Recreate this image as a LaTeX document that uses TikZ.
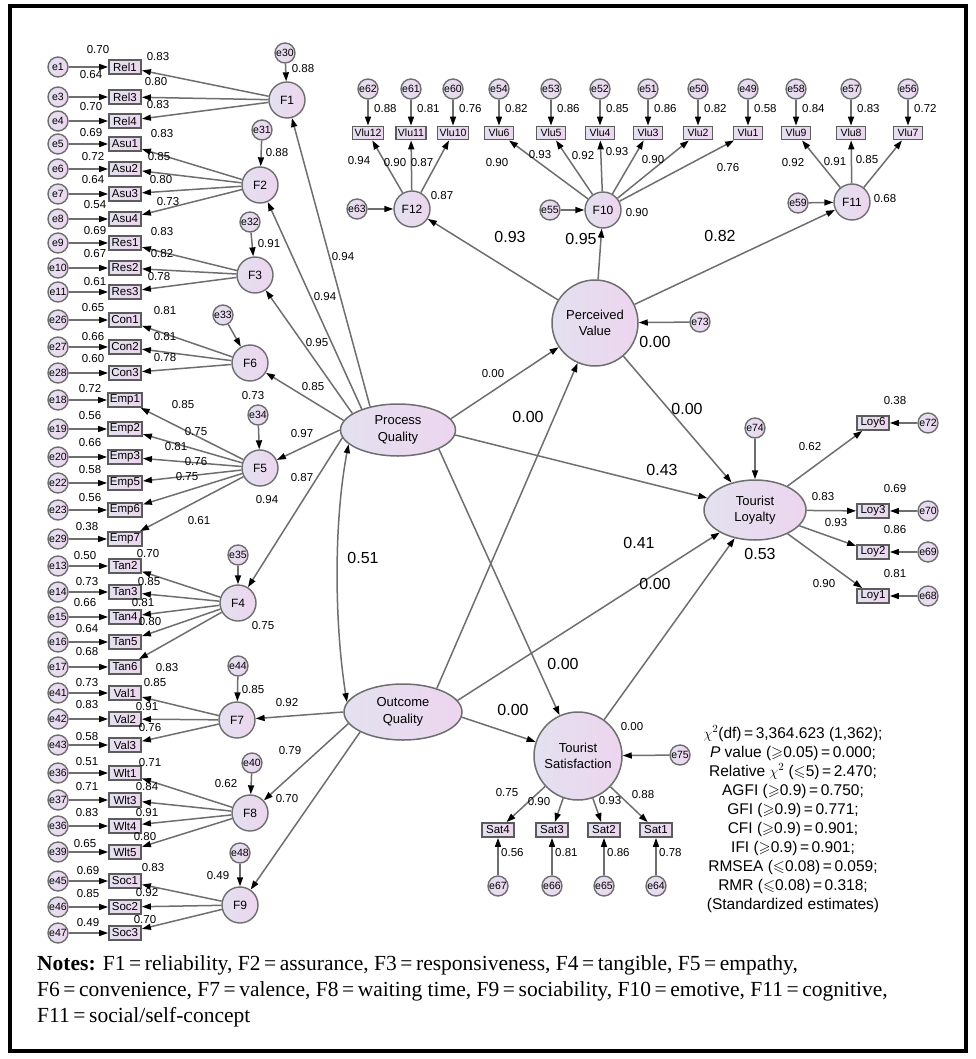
\documentclass[tikz,border=0pt]{standalone}
\usepackage{amssymb}
\usepackage{fontspec}
\setmainfont{Liberation Sans}
\newfontfamily\notefont{Liberation Serif}
\usetikzlibrary{arrows.meta,shapes.geometric}
\definecolor{lineg}{HTML}{6E6E6E}
\definecolor{boxg}{HTML}{5C5C5C}
\definecolor{lavA}{HTML}{E3E1EF}
\definecolor{lavB}{HTML}{EDD5EF}
\begin{document}
\begin{tikzpicture}[x=1pt,y=-1pt,
    lat/.style={circle,draw=lineg,line width=1.4pt,left color=lavA,right color=lavB,
      minimum size=36pt,inner sep=0pt,font=\fontsize{12}{14}\selectfont},
    err/.style={circle,draw=lineg,line width=1.4pt,left color=lavA,right color=lavB,
      minimum size=20pt,inner sep=0pt,font=\fontsize{10.5}{12}\selectfont},
    ind/.style={rectangle,draw=boxg,line width=1.8pt,left color=lavA,right color=lavB,
      minimum width=32pt,minimum height=14pt,inner xsep=2pt,inner ysep=0pt,
      font=\fontsize{11.5}{13}\selectfont},
    indt/.style={ind,minimum width=29pt,minimum height=13pt,font=\fontsize{10.5}{12}\selectfont},
    big/.style={draw=lineg,line width=1.5pt,left color=lavA,right color=lavB,
      inner sep=0pt,align=center,font=\fontsize{13}{16.5}\selectfont},
    ar/.style={-{Triangle[length=9pt,width=6pt,color=black]},draw=lineg,line width=1.5pt},
    num/.style={inner sep=0pt,font=\fontsize{11.5}{13}\selectfont},
    bnum/.style={inner sep=0pt,font=\fontsize{16}{18}\selectfont},
  ]
  \useasboundingbox (0,0) rectangle (975,1059);
  \draw[line width=3.5pt] (10,6) rectangle (966,1051);

  % left block: indicators with their errors
  \foreach \n/\e/\y in {Rel1/e1/67,Rel3/e3/97,Rel4/e4/121,Asu1/e5/144,Asu2/e6/169,
      Asu3/e7/194,Asu4/e8/219,Res1/e9/243,Res2/e10/268,Res3/e11/292,Con1/e26/320,
      Con2/e27/347,Con3/e28/373,Emp1/e18/400,Emp2/e19/429,Emp3/e20/457,Emp5/e22/483,
      Emp6/e23/510,Emp7/e29/539,Tan2/e13/566,Tan3/e14/592,Tan4/e15/617,Tan5/e16/642,
      Tan6/e17/667,Val1/e41/693,Val2/e42/719,Val3/e43/745,Wlt1/e36/773,Wlt3/e37/800,
      Wlt4/e36/826,Wlt5/e39/852,Soc1/e45/881,Soc2/e46/907,Soc3/e47/933}{
    \node[ind] (\n) at (125,\y) {\n};
    \node[err] (er\n) at (58,\y) {\e};
    \draw[ar] (er\n) -- (\n);
  }
  % first order factors
  \foreach \f/\x/\y/\e/\ex/\ey in {F1/287/100/e30/285/53,F2/260/185/e31/262/130,
      F3/255/275/e32/250/222,F6/250/363/e33/223/315,F5/260/468/e34/258/415,
      F4/238/603/e35/238/555,F7/237/720/e44/238/666,F8/250/813/e40/252/763,
      F9/240/905/e48/240/853}{
    \node[lat] (\f) at (\x,\y) {\f};
    \node[err] (er\f) at (\ex,\ey) {\e};
    \draw[ar] (er\f) -- (\f);
  }
  \foreach \f/\items in {F1/{Rel1,Rel3,Rel4},F2/{Asu1,Asu2,Asu3,Asu4},F3/{Res1,Res2,Res3},
      F6/{Con1,Con2,Con3},F5/{Emp1,Emp2,Emp3,Emp5,Emp6,Emp7},F4/{Tan2,Tan3,Tan4,Tan5,Tan6},
      F7/{Val1,Val2,Val3},F8/{Wlt1,Wlt3,Wlt4,Wlt5},F9/{Soc1,Soc2,Soc3}}
    \foreach \i in \items \draw[ar] (\f) -- (\i);

  % second order constructs
  \node[big,ellipse,minimum width=115pt,minimum height=52pt] (PQ) at (398,430) {Process\\Quality};
  \node[big,ellipse,minimum width=118pt,minimum height=56pt] (OQ) at (403,712) {Outcome\\Quality};
  \node[big,circle,minimum size=86pt] (PV) at (595,323) {Perceived\\Value};
  \node[big,circle,minimum size=88pt] (TS) at (578,756) {Tourist\\Satisfaction};
  \node[big,ellipse,minimum width=102pt,minimum height=60pt] (TL) at (755,510) {Tourist\\Loyalty};

  \draw[ar] (PQ.140) -- (F1);
  \draw[ar] (PQ.150) -- (F2);
  \draw[ar] (PQ.160) -- (F3);
  \draw[ar] (PQ.170) -- (F6);
  \draw[ar] (PQ.180) -- (F5);
  \draw[ar] (PQ.188) -- (F4);
  \draw[ar] (OQ.180) -- (F7);
  \draw[ar] (OQ.192) -- (F8);
  \draw[ar] (OQ.205) -- (F9);
  \draw[{Triangle[length=9pt,width=6pt,color=black]}-{Triangle[length=9pt,width=6pt,color=black]},
    draw=lineg,line width=1.5pt] (PQ.196) .. controls (334,520) and (334,620) .. (OQ.170);

  % perceived value block
  \node[lat] (F12) at (412,209) {F12};
  \node[lat] (F10) at (603,210) {F10};
  \node[lat] (F11) at (852,202) {F11};
  \node[err] (erF12) at (357,209) {e63};
  \node[err] (erF10) at (550,210) {e55};
  \node[err] (erF11) at (798,203) {e59};
  \foreach \f in {F12,F10,F11}{
    \draw[ar] (er\f) -- (\f);
    \draw[ar] (PV) -- (\f);
  }
  \foreach \n/\e/\x/\t in {Vlu12/e62/368/0.88,Vlu11/e61/411/0.81,Vlu10/e60/453/0.76,
      Vlu6/e54/499/0.82,Vlu5/e53/551/0.86,Vlu4/e52/600/0.85,Vlu3/e51/648/0.86,
      Vlu2/e50/698/0.82,Vlu1/e49/748/0.58,Vlu9/e58/796/0.84,Vlu8/e57/851/0.83,
      Vlu7/e56/908/0.72}{
    \node[indt] (\n) at (\x,133) {\n};
    \node[err] (er\n) at (\x,89) {\e};
    \draw[ar] (er\n) -- (\n);
    \node[num,anchor=west] (r\n) at (\x+6,109) {\t};
  }
  \foreach \f/\items in {F12/{Vlu12,Vlu11,Vlu10},F10/{Vlu6,Vlu5,Vlu4,Vlu3,Vlu2,Vlu1},
      F11/{Vlu9,Vlu8,Vlu7}}
    \foreach \i in \items \draw[ar] (\f) -- (\i);
  \node[err] (e73) at (700,322) {e73};
  \draw[ar] (e73) -- (PV);

  % loyalty block
  \node[err] (e74) at (755,428) {e74};
  \draw[ar] (e74) -- (TL);
  \foreach \n/\e/\y/\t in {Loy6/e72/423/0.38,Loy3/e70/511/0.69,Loy2/e69/552/0.86,Loy1/e68/596/0.81}{
    \node[ind] (\n) at (873,\y) {\n};
    \node[err] (er\n) at (928,\y) {\e};
    \draw[ar] (er\n) -- (\n);
    \draw[ar] (TL) -- (\n);
    \node[num] (r\n) at (895,\y-22) {\t};
  }

  % satisfaction block
  \node[err] (e75) at (680,755) {e75};
  \draw[ar] (e75) -- (TS);
  \foreach \n/\e/\x/\t in {Sat4/e67/498/0.56,Sat3/e66/552/0.81,Sat2/e65/604/0.86,Sat1/e64/656/0.78}{
    \node[ind] (\n) at (\x,830) {\n};
    \node[err] (er\n) at (\x,886) {\e};
    \draw[ar] (er\n) -- (\n);
    \draw[ar] (TS) -- (\n);
    \node[num,anchor=west] (r\n) at (\x+3,853) {\t};
  }

  % structural paths
  \draw[ar] (PQ.12) -- (PV);
  \draw[ar] (PQ.355) -- (TL);
  \draw[ar] (PQ.335) -- (TS);
  \draw[ar] (OQ.35) -- (PV);
  \draw[ar] (OQ.12) -- (TL);
  \draw[ar] (OQ.355) -- (TS);
  \draw[ar] (PV) -- (TL);
  \draw[ar] (TS) -- (TL);

  % estimates
  \foreach \x/\y/\t [count=\k] in {98/50/0.70,91/75/0.64,91/107/0.70,91/133/0.69,93/157/0.72,
      93/180/0.64,95/205/0.54,95/231/0.69,95/254/0.67,95/282/0.61,93/308/0.65,93/337/0.66,
      93/359/0.60,90/389/0.72,90/416/0.56,90/443/0.66,90/470/0.58,90/498/0.56,87/527/0.38,
      85/556/0.50,87/582/0.73,85/603/0.66,87/629/0.64,87/652/0.68,87/683/0.73,87/705/0.83,
      87/737/0.58,87/762/0.51,87/787/0.71,87/813/0.83,85/844/0.65,88/871/0.69,88/894/0.85,
      88/923/0.49}
    \node[num] (le\k) at (\x,\y) {\t};
  \foreach \x/\y/\t [count=\k] in {158/57/0.83,156/82/0.80,158/105/0.83,162/134/0.83,
      159/157/0.85,161/180/0.80,168/202/0.73,162/232/0.83,162/254/0.82,159/277/0.78,
      165/311/0.81,165/337/0.81,165/358/0.78,183/405/0.85,196/432/0.75,176/447/0.81,
      196/462/0.76,187/477/0.75,199/521/0.61,148/554/0.70,149/582/0.85,143/603/0.81,
      150/622/0.80,167/668/0.83,155/683/0.85,147/707/0.91,150/728/0.76,150/763/0.71,
      147/787/0.84,147/813/0.91,145/837/0.80,153/868/0.83,147/893/0.92,145/920/0.70}
    \node[num] (ll\k) at (\x,\y) {\t};
  \foreach \x/\y/\t [count=\k] in {303/69/0.88,277/153/0.88,269/244/0.91,253/396/0.73,
      267/500/0.94,263/626/0.75,253/690/0.85,226/784/0.62,218/876/0.49,343/257/0.94,
      325/297/0.94,317/343/0.95,313/387/0.85,302/434/0.97,302/478/0.87,287/703/0.92,
      290/751/0.79,287/799/0.70,359/161/0.94,395/163/0.90,422/163/0.87,497/163/0.90,
      540/155/0.93,583/156/0.92,617/152/0.93,653/160/0.90,728/168/0.76,793/163/0.92,
      835/162/0.91,867/160/0.85,442/196/0.87,637/213/0.90,885/199/0.68,493/374/0.00,
      632/727/0.00,810/447/0.62,823/497/0.83,836/523/0.93,824/584/0.90,507/793/0.75,
      539/802/0.90,610/801/0.93,643/795/0.88}
    \node[num] (ls\k) at (\x,\y) {\t};
  \foreach \x/\y/\t [count=\k] in {510/237/0.93,581/239/0.95,720/236/0.82,655/342/0.00,
      528/417/0.00,687/409/0.00,662/470/0.43,639/543/0.41,655/584/0.00,760/554/0.53,
      563/664/0.00,513/710/0.00,363/558/0.51}
    \node[bnum] (lb\k) at (\x,\y) {\t};

  % fit indices
  \node[inner sep=0pt,align=center,font=\fontsize{15.5}{19}\selectfont] (gof) at (793,819)
    {$\chi^2$(df)\,=\,3,364.623 (1,362);\\
     \textit{P} value ($\geqslant$0.05)\,=\,0.000;\\
     Relative $\chi^2$ ($\leqslant$5)\,=\,2.470;\\
     AGFI ($\geqslant$0.9)\,=\,0.750;\\
     GFI ($\geqslant$0.9)\,=\,0.771;\\
     CFI ($\geqslant$0.9)\,=\,0.901;\\
     IFI ($\geqslant$0.9)\,=\,0.901;\\
     RMSEA ($\leqslant$0.08)\,=\,0.059;\\
     RMR ($\leqslant$0.08)\,=\,0.318;\\
     (Standardized estimates)};

  \node[anchor=north west,inner sep=0pt,align=left,font=\notefont\fontsize{21.5}{26}\selectfont]
    (notes) at (37,955)
    {\textbf{Notes:} F1\,=\,reliability, F2\,=\,assurance, F3\,=\,responsiveness, F4\,=\,tangible, F5\,=\,empathy,\\
     F6\,=\,convenience, F7\,=\,valence, F8\,=\,waiting time, F9\,=\,sociability, F10\,=\,emotive, F11\,=\,cognitive,\\
     F11\,=\,social/self-concept};
\end{tikzpicture}
\end{document}
